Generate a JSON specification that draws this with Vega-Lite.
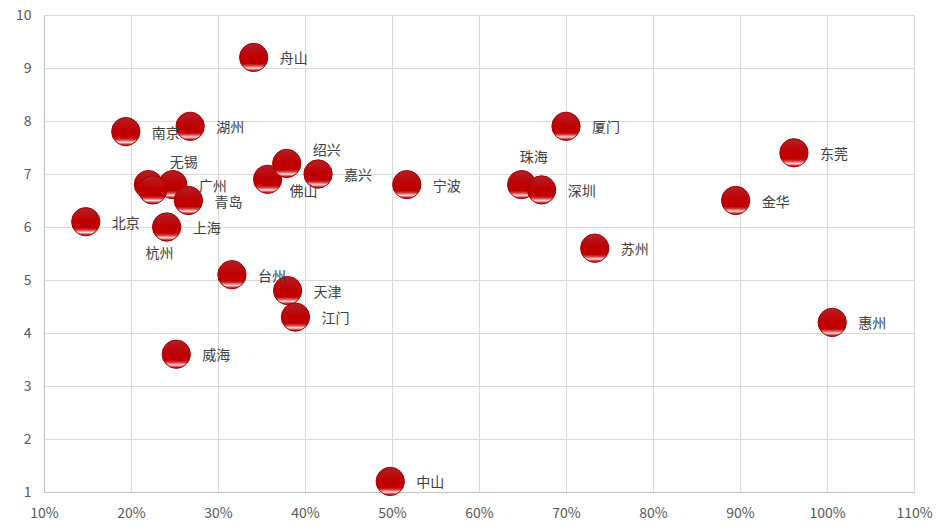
{
  "$schema": "https://vega.github.io/schema/vega-lite/v6.json",
  "autosize": "none",
  "width": 870,
  "height": 477,
  "padding": {"left": 44, "top": 15, "right": 37, "bottom": 40},
  "background": "white",
  "config": {
    "view": {"stroke": null},
    "font": "Noto Sans CJK SC",
    "axis": {
      "labelFont": "Noto Sans CJK SC",
      "labelFontSize": 14,
      "labelColor": "#595959",
      "gridColor": "#d9d9d9",
      "gridWidth": 1,
      "domainColor": "#bfbfbf",
      "ticks": false,
      "title": null
    }
  },
  "data": {
    "values": [
      {"city": "舟山", "rate": 0.341, "score": 9.2},
      {"city": "南京", "rate": 0.194, "score": 7.8},
      {"city": "湖州", "rate": 0.268, "score": 7.9},
      {"city": "杭州", "rate": 0.22, "score": 6.8},
      {"city": "广州", "rate": 0.248, "score": 6.8},
      {"city": "无锡", "rate": 0.225, "score": 6.7},
      {"city": "青岛", "rate": 0.266, "score": 6.5},
      {"city": "上海", "rate": 0.241, "score": 6.0},
      {"city": "北京", "rate": 0.148, "score": 6.1},
      {"city": "佛山", "rate": 0.357, "score": 6.9},
      {"city": "绍兴", "rate": 0.379, "score": 7.2},
      {"city": "嘉兴", "rate": 0.415, "score": 7.0},
      {"city": "宁波", "rate": 0.517, "score": 6.8},
      {"city": "台州", "rate": 0.316, "score": 5.1},
      {"city": "天津", "rate": 0.38, "score": 4.8},
      {"city": "江门", "rate": 0.389, "score": 4.3},
      {"city": "威海", "rate": 0.252, "score": 3.6},
      {"city": "中山", "rate": 0.498, "score": 1.2},
      {"city": "珠海", "rate": 0.649, "score": 6.8},
      {"city": "深圳", "rate": 0.672, "score": 6.7},
      {"city": "厦门", "rate": 0.70, "score": 7.9},
      {"city": "苏州", "rate": 0.733, "score": 5.6},
      {"city": "金华", "rate": 0.895, "score": 6.5},
      {"city": "东莞", "rate": 0.962, "score": 7.4},
      {"city": "惠州", "rate": 1.006, "score": 4.2}
    ]
  },
  "encoding": {
    "x": {
      "field": "rate", "type": "quantitative",
      "scale": {"domain": [0.1, 1.1], "nice": false, "zero": false},
      "axis": {"format": ".0%", "values": [0.1,0.2,0.3,0.4,0.5,0.6,0.7,0.8,0.9,1.0,1.1], "labelPadding": 14, "labelFlush": false}
    },
    "y": {
      "field": "score", "type": "quantitative",
      "scale": {"domain": [1, 10], "nice": false, "zero": false},
      "axis": {"values": [1,2,3,4,5,6,7,8,9,10], "labelPadding": 13, "labelFlush": false}
    }
  },
  "layer": [
    {
      "mark": {
        "type": "point",
        "shape": "circle",
        "filled": true,
        "size": 800,
        "opacity": 1,
        "stroke": "#a80000",
        "strokeWidth": 1,
        "fill": {
          "gradient": "linear", "x1": 0, "y1": 0, "x2": 0, "y2": 1,
          "stops": [
            {"offset": 0, "color": "#b3202a"},
            {"offset": 0.45, "color": "#c00000"},
            {"offset": 0.72, "color": "#c00000"},
            {"offset": 0.8, "color": "#d84848"},
            {"offset": 0.88, "color": "#fbe0e0"},
            {"offset": 0.95, "color": "#d03030"},
            {"offset": 1, "color": "#b00000"}
          ]
        }
      }
    },
    {
      "transform": [{"filter": {"not": {"field": "city", "oneOf": ["无锡", "杭州", "绍兴", "佛山", "珠海"]}}}],
      "mark": {"type": "text", "align": "left", "baseline": "middle", "dx": 26, "dy": 2, "fontSize": 14, "color": "#404040", "font": "Noto Sans CJK SC"},
      "encoding": {"text": {"field": "city"}}
    },
    {
      "transform": [{"filter": {"field": "city", "equal": "无锡"}}],
      "mark": {"type": "text", "align": "left", "baseline": "middle", "dx": 17, "dy": -27, "fontSize": 14, "color": "#404040"},
      "encoding": {"text": {"field": "city"}}
    },
    {
      "transform": [{"filter": {"field": "city", "equal": "杭州"}}],
      "mark": {"type": "text", "align": "center", "baseline": "middle", "dx": 11, "dy": 69, "fontSize": 14, "color": "#404040"},
      "encoding": {"text": {"field": "city"}}
    },
    {
      "transform": [{"filter": {"field": "city", "equal": "绍兴"}}],
      "mark": {"type": "text", "align": "left", "baseline": "middle", "dx": 26, "dy": -12, "fontSize": 14, "color": "#404040"},
      "encoding": {"text": {"field": "city"}}
    },
    {
      "transform": [{"filter": {"field": "city", "equal": "佛山"}}],
      "mark": {"type": "text", "align": "left", "baseline": "middle", "dx": 22, "dy": 13, "fontSize": 14, "color": "#404040"},
      "encoding": {"text": {"field": "city"}}
    },
    {
      "transform": [{"filter": {"field": "city", "equal": "珠海"}}],
      "mark": {"type": "text", "align": "center", "baseline": "middle", "dx": 12, "dy": -27, "fontSize": 14, "color": "#404040"},
      "encoding": {"text": {"field": "city"}}
    }
  ]
}
